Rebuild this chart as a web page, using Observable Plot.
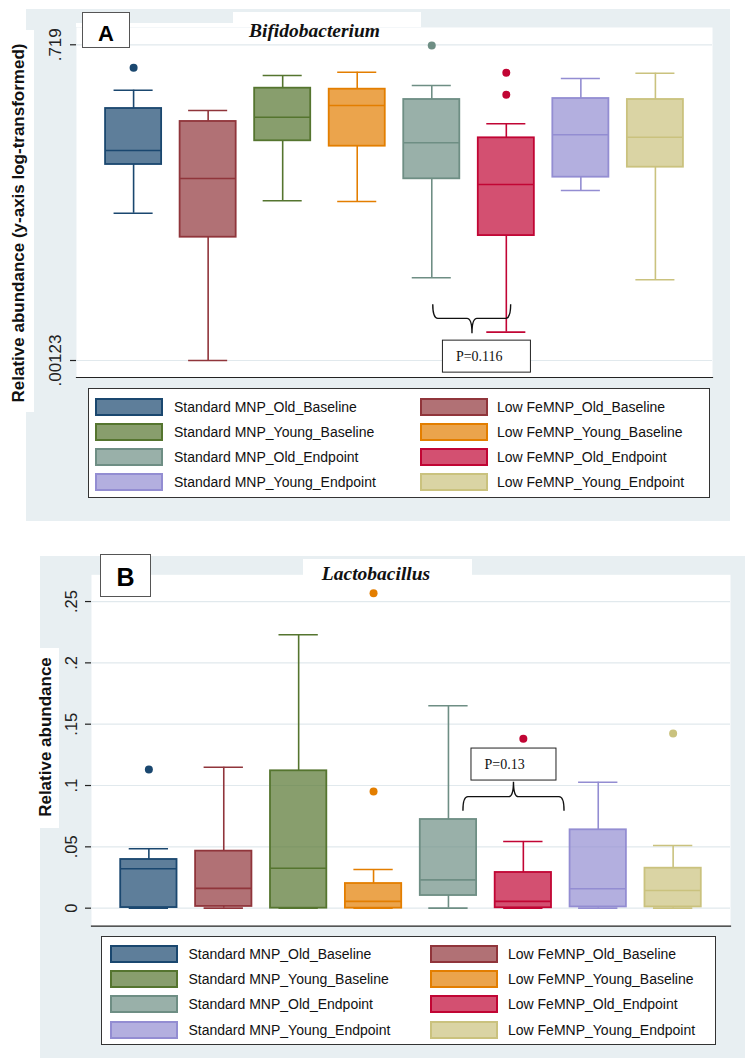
<!DOCTYPE html>
<html><head><meta charset="utf-8">
<script src="https://cdn.jsdelivr.net/npm/d3@7"></script>
<script src="https://cdn.jsdelivr.net/npm/@observablehq/plot@0.6"></script>
<style>
html,body{margin:0;padding:0;background:#fff;}
#root{position:relative;width:751px;height:1064px;overflow:hidden;font-family:"Liberation Sans",Arial,sans-serif;}
.abs{position:absolute;}
.bg{position:absolute;background:#e8eff2;}
.wh{position:absolute;background:#fff;}
.ytitle{position:absolute;white-space:nowrap;font-weight:bold;font-size:17px;color:#111;transform:translate(-50%,-50%) rotate(-90deg);}
.ptitle{position:absolute;white-space:nowrap;font-family:"Liberation Serif","Times New Roman",serif;font-weight:bold;font-style:italic;font-size:19.5px;line-height:1;transform:translateX(-50%);color:#111;}
.letter{position:absolute;background:#fff;border:1.2px solid #555;box-sizing:border-box;font-weight:bold;font-size:23px;display:flex;align-items:center;justify-content:center;color:#000;}
.legend{position:absolute;background:#fff;border:1px solid #333;box-sizing:border-box;}
.sw{position:absolute;width:68px;height:18px;box-sizing:border-box;border:2px solid;}
.lt{position:absolute;font-size:14px;white-space:nowrap;color:#111;line-height:18px;}
.plotwrap{position:absolute;left:0;}
</style></head><body><div id="root"></div>
<script>
// ---------- shared categories ----------
const groups = [
  "Standard MNP_Old_Baseline", "Low FeMNP_Old_Baseline",
  "Standard MNP_Young_Baseline", "Low FeMNP_Young_Baseline",
  "Standard MNP_Old_Endpoint", "Low FeMNP_Old_Endpoint",
  "Standard MNP_Young_Endpoint", "Low FeMNP_Young_Endpoint"
];
const colors = ["#1a476f","#90353b","#55752f","#e37e00","#6e8e84","#c10534","#938dd2","#cac27e"];

// ---------- Panel A: Bifidobacterium (log scale) ----------
const bifLo  = [0.0240, 0.00123, 0.0309, 0.0304, 0.00653, 0.00218, 0.0380, 0.00627];
const bifQ1  = [0.0642, 0.0148, 0.1036, 0.0929, 0.0481, 0.0153, 0.0497, 0.0608];
const bifMed = [0.0852, 0.0484, 0.1668, 0.2112, 0.0995, 0.0429, 0.1169, 0.1114];
const bifQ3  = [0.1988, 0.1530, 0.2995, 0.2935, 0.2384, 0.1100, 0.2432, 0.2384];
const bifHi  = [0.2876, 0.1910, 0.3870, 0.4136, 0.3162, 0.1460, 0.3641, 0.4054];
const bifOutGroup = [0, 4, 5, 5];
const bifOutValue = [0.452, 0.709, 0.4087, 0.2622];
const bifTicks = [0.00123, 0.719];
const bifTickLabels = [".00123", ".719"];
const bifTitle = "Bifidobacterium";
const bifYTitle = "Relative abundance (y-axis log-transformed)";
const bifP = "P=0.116";

// ---------- Panel B: Lactobacillus (linear) ----------
const lacLo  = [0, 0, 0, 0, 0, 0, 0, 0];
const lacQ1  = [0.0005, 0.0014, 0, 0, 0.0103, 0.0003, 0.001, 0.001];
const lacMed = [0.0321, 0.0161, 0.0326, 0.0055, 0.0231, 0.0055, 0.0158, 0.0144];
const lacQ3  = [0.0397, 0.0465, 0.1120, 0.0201, 0.0723, 0.0291, 0.0639, 0.0326];
const lacHi  = [0.0484, 0.1149, 0.2229, 0.0315, 0.1650, 0.0544, 0.1027, 0.0511];
const lacOutGroup = [0, 3, 3, 5, 7];
const lacOutValue = [0.1131, 0.2568, 0.0951, 0.1381, 0.1424];
const lacTicks = [0, 0.05, 0.1, 0.15, 0.2, 0.25];
const lacTickLabels = ["0", ".05", ".1", ".15", ".2", ".25"];
const lacTitle = "Lactobacillus";
const lacYTitle = "Relative abundance";
const lacP = "P=0.13";

// ---------- helpers ----------
const root = document.getElementById("root");
function el(cls, style, text) {
  const d = document.createElement("div");
  d.className = cls;
  Object.assign(d.style, style);
  if (text !== undefined) d.textContent = text;
  root.appendChild(d);
  return d;
}

function boxPlot(cfg) {
  const rows = groups.map((g, i) => ({g, lo: cfg.lo[i], q1: cfg.q1[i], med: cfg.med[i], q3: cfg.q3[i], hi: cfg.hi[i]}));
  const outs = cfg.outG.map((gi, k) => ({g: groups[gi], v: cfg.outV[k]}));
  const sw = 1.6;
  const plot = Plot.plot({
    width: cfg.width, height: cfg.height,
    marginLeft: cfg.ml, marginRight: cfg.mr, marginTop: cfg.mt, marginBottom: cfg.mb,
    x: {type: "band", domain: groups, paddingInner: 0.248, paddingOuter: 0.39, round: false, axis: null},
    y: {type: cfg.yType, domain: cfg.yDomain, axis: null},
    color: {domain: groups, range: colors},
    style: {background: "transparent", overflow: "visible", fontFamily: "Liberation Sans, Arial, sans-serif"},
    marks: [
      Plot.frame({fill: "white", stroke: "none"}),
      Plot.ruleY(cfg.ticks, {stroke: "#e1e9ed", strokeWidth: 1.2}),
      Plot.axisY({ticks: cfg.ticks, tickSize: 6, tickFormat: () => "", line: true, stroke: "#222", strokeWidth: 1.2, label: null}),
      Plot.frame({anchor: "bottom", stroke: "#222", strokeWidth: 1.2}),
      Plot.text(cfg.ticks, {y: d => d, text: cfg.tickLabels, frameAnchor: "left", dx: cfg.labDx, rotate: -90,
        textAnchor: "middle", lineAnchor: "middle", fontSize: cfg.tickFont, fill: "#222"}),
      Plot.ruleX(rows, {x: "g", y1: "q3", y2: "hi", stroke: "g", strokeWidth: sw}),
      Plot.ruleX(rows, {x: "g", y1: "lo", y2: "q1", stroke: "g", strokeWidth: sw}),
      Plot.barY(rows, {x: "g", y1: "q1", y2: "q3", fill: "g", fillOpacity: 0.7, stroke: "g", strokeWidth: 1.8}),
      Plot.tickY(rows, {x: "g", y: "med", stroke: "g", strokeWidth: sw}),
      Plot.tickY(rows, {x: "g", y: "hi", stroke: "g", strokeWidth: sw, insetLeft: 8.5, insetRight: 8.5}),
      Plot.tickY(rows, {x: "g", y: "lo", stroke: "g", strokeWidth: sw, insetLeft: 8.5, insetRight: 8.5}),
      Plot.dot(outs, {x: "g", y: "v", fill: "g", r: 4, stroke: "none"})
    ]
  });
  // annotation: brace + p-value box, positioned via the plot's own scales
  const xs = plot.scale("x"), ys = plot.scale("y");
  const x0 = xs.apply(groups[0]) + xs.bandwidth / 2;
  const step = xs.apply(groups[1]) - xs.apply(groups[0]);
  const px = i => x0 + i * step;
  const a = cfg.ann;
  const yb = ys.apply(a.bar), dir = a.dir, r = 5;
  const x1 = px(a.from), x2 = px(a.to), xm = px(a.mid);
  const yt = yb - dir * 14, yc = yb + dir * 15;
  const d = `M${x1},${yt} Q${x1},${yb} ${x1 + r},${yb} L${xm - r},${yb} Q${xm},${yb} ${xm},${yc} ` +
            `Q${xm},${yb} ${xm + r},${yb} L${x2 - r},${yb} Q${x2},${yb} ${x2},${yt}`;
  const g = d3.select(plot).append("g");
  g.append("path").attr("d", d).attr("fill", "none").attr("stroke", "#111").attr("stroke-width", 1.4);
  const lx = px(a.labelX), ly = ys.apply(a.labelY);
  g.append("rect").attr("x", lx - a.boxW / 2).attr("y", ly - 16).attr("width", a.boxW).attr("height", 32)
    .attr("fill", "#fff").attr("stroke", "#222").attr("stroke-width", 1);
  g.append("text").attr("x", lx - a.boxW / 2 + 13.5).attr("y", ly).attr("dy", "0.35em")
    .attr("text-anchor", "start")
    .attr("font-family", "Liberation Serif, Times New Roman, serif").attr("font-size", 14).attr("fill", "#111")
    .text(a.label);
  const wrap = document.createElement("div");
  wrap.className = "plotwrap";
  wrap.style.top = cfg.top + "px";
  wrap.appendChild(plot);
  root.appendChild(wrap);
}

function legend(left, top, w, h, swX, txtX, rowY) {
  const box = el("legend", {left: left + "px", top: top + "px", width: w + "px", height: h + "px"});
  groups.forEach((gname, i) => {
    const col = i % 2, row = Math.floor(i / 2);
    const c = d3.color(colors[i]); const f = c.copy({opacity: 0.7});
    const s = document.createElement("div");
    s.className = "sw";
    Object.assign(s.style, {left: swX[col] + "px", top: rowY[row] + "px", borderColor: colors[i], background: f.formatRgb()});
    box.appendChild(s);
    const t = document.createElement("div");
    t.className = "lt";
    Object.assign(t.style, {left: txtX[col] + "px", top: rowY[row] + "px"});
    t.textContent = gname;
    box.appendChild(t);
  });
}

// ---------- Panel A ----------
el("bg", {left: "26px", top: "9px", width: "704px", height: "512px"});
el("wh", {left: "0px", top: "30px", width: "34px", height: "382px"});
boxPlot({
  lo: bifLo, q1: bifQ1, med: bifMed, q3: bifQ3, hi: bifHi, outG: bifOutGroup, outV: bifOutValue,
  ticks: bifTicks, tickLabels: bifTickLabels, yType: "log", yDomain: [0.000873, 1.019],
  width: 730, height: 385, ml: 76, mr: 18, mt: 27, mb: 8, top: 0, labDx: -20.5, tickFont: 17,
  ann: {from: 4.02, to: 5.065, mid: 4.546, bar: 0.00285, dir: 1, label: bifP, labelX: 4.74, labelY: 0.00133, boxW: 88}
});
el("wh", {left: "76px", top: "23px", width: "157px", height: "4px"});
el("wh", {left: "233px", top: "12px", width: "188px", height: "15px"});
el("ptitle", {left: "314.5px", top: "21.2px"}, bifTitle);
el("letter", {left: "82px", top: "12px", width: "48px", height: "36px", paddingTop: "7px", fontSize: "22px"}, "A");
el("ytitle", {left: "19px", top: "223px"}, bifYTitle);
legend(88, 388, 622, 110, [6, 331], [85, 408], [9, 34, 59, 84]);

// ---------- Panel B ----------
el("bg", {left: "40px", top: "556px", width: "705px", height: "502px"});
el("wh", {left: "40px", top: "648px", width: "19px", height: "180px"});
boxPlot({
  lo: lacLo, q1: lacQ1, med: lacMed, q3: lacQ3, hi: lacHi, outG: lacOutGroup, outV: lacOutValue,
  ticks: lacTicks, tickLabels: lacTickLabels, yType: "linear", yDomain: [-0.0147, 0.2718],
  width: 745, height: 400, ml: 91, mr: 15, mt: 34.3, mb: 14.3, top: 540, labDx: -20, tickFont: 16.5,
  ann: {from: 4.2, to: 5.55, mid: 4.875, bar: 0.0905, dir: -1, label: lacP, labelX: 4.875, labelY: 0.1171, boxW: 85}
});
el("wh", {left: "303px", top: "559px", width: "169px", height: "15.5px"});
el("ptitle", {left: "376px", top: "563.7px"}, lacTitle);
el("letter", {left: "100px", top: "554px", width: "51px", height: "43px", paddingTop: "4px", fontSize: "25px"}, "B");
el("ytitle", {left: "46px", top: "737px"}, lacYTitle);
legend(101, 936, 615, 109, [8, 328], [86.5, 406], [8, 33, 58, 83.5]);
</script></body></html>
